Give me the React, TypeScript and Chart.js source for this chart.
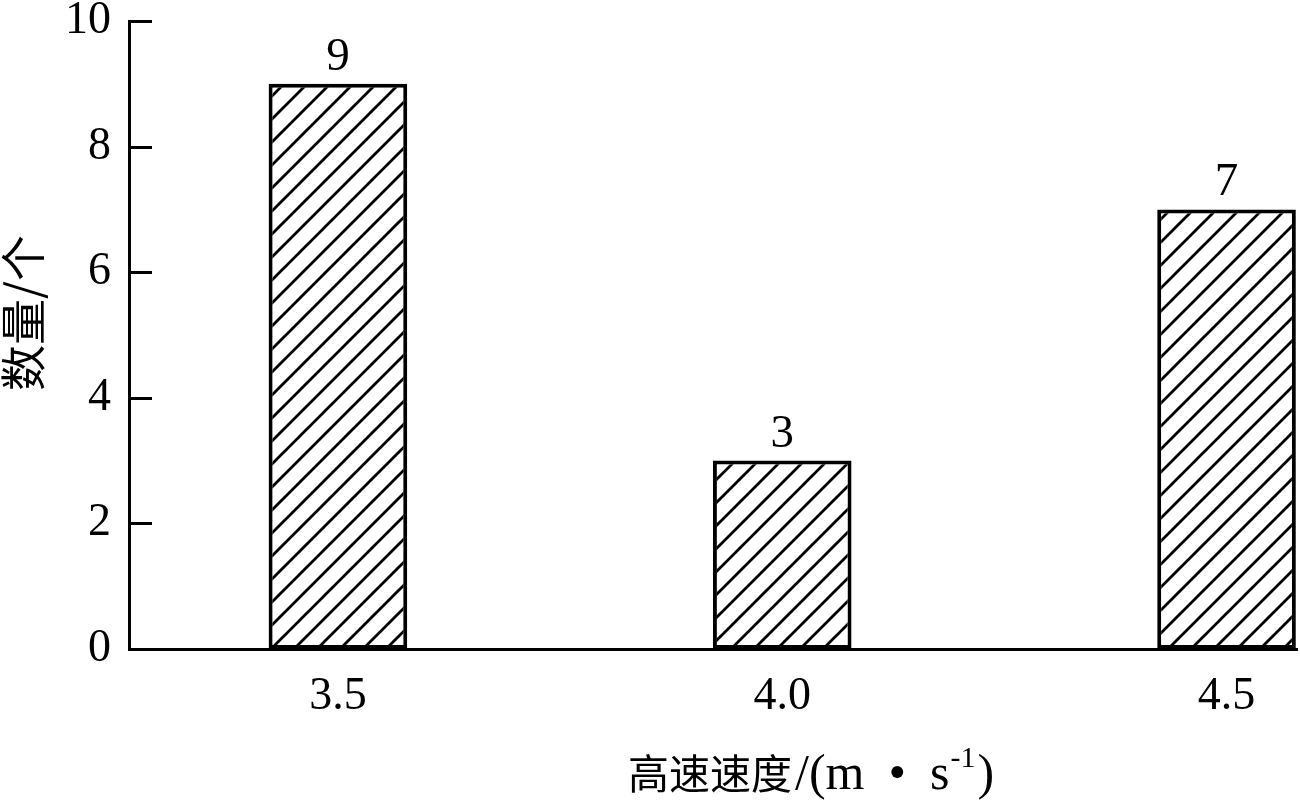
import React, { useEffect, useRef } from 'react';
import { Chart, registerables } from 'chart.js';

Chart.register(...registerables);

const speeds = [3.5, 4.0, 4.5];
const speedLabels = ['3.5', '4.0', '4.5'];
const counts = [9, 3, 7];
const yTicks = [0, 2, 4, 6, 8, 10];
const xTitleCJK = '高速速度';
const xTitleParts = ['/(m', '•', 's'];
const xTitleSup = '-1';
const xTitleEnd = ')';
const yTitle = '数量/个';

const SERIF = "'Liberation Serif', 'Times New Roman', serif";
const CJK = "'Noto Sans CJK SC', sans-serif";

function makeHatch(ctx: CanvasRenderingContext2D): CanvasPattern | string {
  const s = 23;
  const c = document.createElement('canvas');
  c.width = s;
  c.height = s;
  const g = c.getContext('2d');
  if (!g) return '#fff';
  g.fillStyle = '#fff';
  g.fillRect(0, 0, s, s);
  g.strokeStyle = '#000';
  g.lineWidth = 2.8;
  g.lineCap = 'square';
  g.beginPath();
  g.moveTo(-2, s + 2);
  g.lineTo(s + 2, -2);
  g.moveTo(-2, 2);
  g.lineTo(2, -2);
  g.moveTo(s - 2, s + 2);
  g.lineTo(s + 2, s - 2);
  g.stroke();
  return ctx.createPattern(c, 'repeat') || '#fff';
}

const annotate = {
  id: 'annotate',
  afterDraw(chart: any) {
    const ctx: CanvasRenderingContext2D = chart.ctx;
    const area = chart.chartArea;
    const yScale = chart.scales.y;
    ctx.save();
    // inward y tick marks
    ctx.strokeStyle = '#000';
    ctx.lineWidth = 3;
    yTicks.forEach((v) => {
      if (v === 0) return;
      const py = Math.round(yScale.getPixelForValue(v)) + 0.5;
      ctx.beginPath();
      ctx.moveTo(area.left, py);
      ctx.lineTo(area.left + 23, py);
      ctx.stroke();
    });
    // value labels
    ctx.fillStyle = '#000';
    ctx.font = `47px ${SERIF}`;
    ctx.textAlign = 'center';
    ctx.textBaseline = 'alphabetic';
    const meta = chart.getDatasetMeta(0);
    meta.data.forEach((el: any, i: number) => {
      ctx.fillText(String(counts[i]), el.x, el.y - 14);
    });
    // x title
    ctx.textAlign = 'left';
    let x = 628;
    const base = 789;
    ctx.font = `41px ${CJK}`;
    ctx.fillText(xTitleCJK, x, base);
    x += ctx.measureText(xTitleCJK).width + 3;
    ctx.font = `50px ${SERIF}`;
    xTitleParts.forEach((p, i) => {
      ctx.fillText(p, x, base);
      x += ctx.measureText(p).width + (i < xTitleParts.length - 1 ? 24 : 0);
    });
    ctx.font = `30px ${SERIF}`;
    ctx.fillText(xTitleSup, x + 1, base - 22);
    x += ctx.measureText(xTitleSup).width + 3;
    ctx.font = `50px ${SERIF}`;
    ctx.fillText(xTitleEnd, x, base);
    // y title
    ctx.translate(23, 313);
    ctx.rotate(-Math.PI / 2);
    ctx.font = `46px ${CJK}`;
    ctx.textAlign = 'center';
    ctx.textBaseline = 'middle';
    ctx.fillText(yTitle, 0, 0);
    ctx.restore();
  },
};

export default function App() {
  const ref = useRef<HTMLCanvasElement>(null);
  useEffect(() => {
    document.body.style.margin = '0';
    const canvas = ref.current;
    if (!canvas) return;
    const ctx = canvas.getContext('2d');
    if (!ctx) return;
    const hatch = makeHatch(ctx);
    const chart = new Chart(canvas, {
      type: 'bar',
      data: {
        datasets: [
          {
            data: speeds.map((s, i) => ({ x: s, y: counts[i] })) as any,
            backgroundColor: hatch as any,
            borderColor: '#000',
            borderWidth: 4,
            borderSkipped: false,
            categoryPercentage: 1,
            barPercentage: 0.312,
          },
        ],
      },
      options: {
        animation: false,
        responsive: false,
        devicePixelRatio: 1,
        layout: { padding: { top: 21, right: 3, left: 0, bottom: 0 } },
        plugins: { legend: { display: false }, tooltip: { enabled: false } },
        scales: {
          x: {
            type: 'linear',
            min: 3.2649,
            max: 4.5793,
            offset: false,
            grid: { display: false, drawTicks: false },
            border: { display: true, color: '#000', width: 3 },
            afterBuildTicks: (s: any) => {
              s.ticks = speeds.map((v) => ({ value: v }));
            },
            afterFit: (s: any) => {
              s.height = 152;
              s.paddingLeft = 0;
              s.paddingRight = 0;
            },
            ticks: {
              autoSkip: false,
              maxRotation: 0,
              color: '#000',
              padding: 20,
              font: { family: SERIF, size: 46 },
              callback: (v: any) => {
                const i = speeds.findIndex((s) => Math.abs(s - Number(v)) < 1e-6);
                return i >= 0 ? speedLabels[i] : '';
              },
            },
          },
          y: {
            min: 0,
            max: 10,
            grid: { display: false, drawTicks: false },
            border: { display: true, color: '#000', width: 3 },
            afterBuildTicks: (s: any) => {
              s.ticks = yTicks.map((v) => ({ value: v }));
            },
            afterFit: (s: any) => {
              s.width = 129;
              s.paddingTop = 0;
              s.paddingBottom = 0;
            },
            ticks: {
              color: '#000',
              padding: 18,
              font: { family: SERIF, size: 46 },
            },
          },
        },
      } as any,
      plugins: [annotate],
    });
    return () => chart.destroy();
  }, []);
  return <canvas ref={ref} width={1300} height={801} style={{ display: 'block' }} />;
}
